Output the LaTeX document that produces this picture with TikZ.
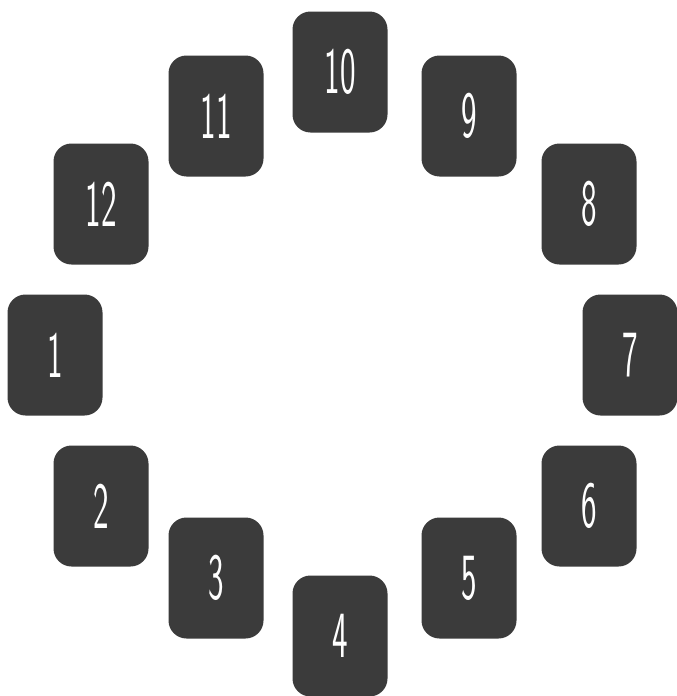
\documentclass[tikz,border=0pt]{standalone}
\usepackage{graphicx}
\definecolor{TileGray}{HTML}{3B3B3B}
\newcommand{\tilenum}[1]{\scalebox{0.5}[1]{#1}}

\begin{document}
\begin{tikzpicture}[x=1pt,y=-1pt]
  \tikzstyle{numtile}=[fill=TileGray,rounded corners=18pt,
    minimum width=95pt,minimum height=121pt,inner sep=0pt,
    text=white,font=\sffamily\fontsize{66}{66}\selectfont]
  \useasboundingbox[fill=white] (0,0) rectangle (677,696);
  % top half
  \node[numtile] (t10) at (340,72)  {\tilenum{10}};
  \node[numtile] (t11) at (216,116) {\tilenum{11}};
  \node[numtile] (t9)  at (469,116) {\tilenum{9}};
  \node[numtile] (t12) at (101,204) {\tilenum{12}};
  \node[numtile] (t8)  at (589,204) {\tilenum{8}};
  % sides
  \node[numtile] (t1)  at (55,355)  {\tilenum{1}};
  \node[numtile] (t7)  at (630,355) {\tilenum{7}};
  % bottom half
  \node[numtile] (t2)  at (101,506) {\tilenum{2}};
  \node[numtile] (t6)  at (589,506) {\tilenum{6}};
  \node[numtile] (t3)  at (216,578) {\tilenum{3}};
  \node[numtile] (t5)  at (469,578) {\tilenum{5}};
  \node[numtile] (t4)  at (340,636) {\tilenum{4}};
\end{tikzpicture}
\end{document}
